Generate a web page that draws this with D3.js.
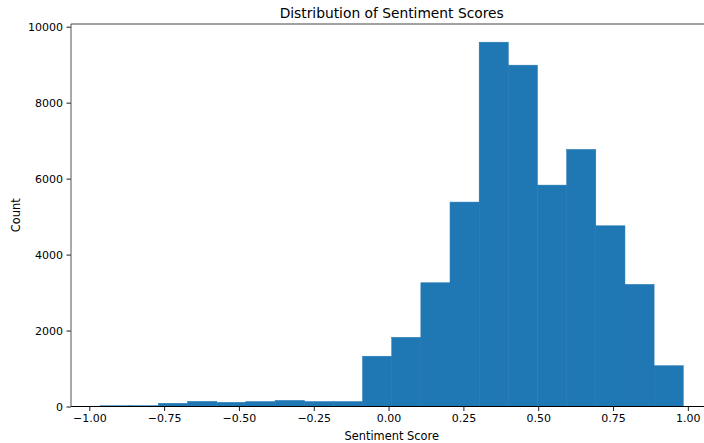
<!DOCTYPE html>
<html>
<head>
<meta charset="utf-8">
<script src="https://cdn.jsdelivr.net/npm/d3@7"></script>
<style>
  html, body { margin: 0; padding: 0; background: #fff; }
  svg { display: block; font-family: "DejaVu Sans", sans-serif; }
</style>
</head>
<body>
<svg id="chart" width="704" height="443"></svg>
<script>
// Histogram bin edges (sentiment score) and counts
const binEdges = [-0.9636, -0.8662, -0.7688, -0.6714, -0.5740, -0.4766, -0.3791, -0.2817,
  -0.1843, -0.0869, 0.0105, 0.1079, 0.2053, 0.3027, 0.4001, 0.4975, 0.5950, 0.6924,
  0.7898, 0.8872, 0.9846];
const counts = [20, 22, 85, 135, 110, 130, 160, 130, 130, 1324, 1821, 3258, 5382, 9592,
  8987, 5829, 6768, 4758, 3215, 1074];
const xTicks = [-1.0, -0.75, -0.5, -0.25, 0.0, 0.25, 0.5, 0.75, 1.0];
const yTicks = [0, 2000, 4000, 6000, 8000, 10000];
const titleText = "Distribution of Sentiment Scores";
const xLabel = "Sentiment Score";
const yLabel = "Count";

(function () {
const svg = d3.select("#chart");
const pL = 71, pR = 712.4, pT = 24, pB = 406.5;

const x = d3.scaleLinear().domain([-1.0611, 1.0820]).range([pL, pR]);
const y = d3.scaleLinear().domain([0, 10071]).range([pB, pT]);

const bins = counts.map((c, i) => ({ x0: binEdges[i], x1: binEdges[i + 1], c }));

svg.append("g").selectAll("rect").data(bins).join("rect")
  .attr("x", d => x(d.x0))
  .attr("width", d => x(d.x1) - x(d.x0))
  .attr("y", d => y(d.c))
  .attr("height", d => y(0) - y(d.c))
  .attr("fill", "#1f77b4")
  .attr("stroke", "#1f77b4")
  .attr("stroke-width", 0.5);

const fmt = v => (v < 0 ? "\u2212" : "") + Math.abs(v).toFixed(2);

const xAxis = svg.append("g").attr("transform", `translate(0,${pB})`)
  .call(d3.axisBottom(x).tickValues(xTicks).tickFormat(fmt).tickSize(4.5).tickPadding(3.5));
const yAxis = svg.append("g").attr("transform", `translate(${pL},0)`)
  .call(d3.axisLeft(y).tickValues(yTicks).tickFormat(d3.format("d")).tickSize(4.5).tickPadding(3.5));

[xAxis, yAxis].forEach(g => {
  g.selectAll("text").attr("font-size", 11).attr("fill", "#000").attr("font-family", "DejaVu Sans");
  g.selectAll(".tick line").attr("stroke", "#000").attr("stroke-width", 0.9);
  g.select(".domain").remove();
});

// spines
svg.append("line").attr("x1", pL).attr("x2", pR).attr("y1", pB).attr("y2", pB)
  .attr("stroke", "#000").attr("stroke-width", 1);
svg.append("line").attr("x1", pL).attr("x2", pL).attr("y1", pT).attr("y2", pB)
  .attr("stroke", "#555").attr("stroke-width", 1);
svg.append("line").attr("x1", pL).attr("x2", pR).attr("y1", pT).attr("y2", pT)
  .attr("stroke", "#444").attr("stroke-width", 1);

svg.append("text").attr("x", (pL + pR) / 2).attr("y", 18)
  .attr("text-anchor", "middle").attr("font-size", 13.8).attr("fill", "#000").text(titleText);
svg.append("text").attr("x", (pL + pR) / 2).attr("y", 440)
  .attr("text-anchor", "middle").attr("font-size", 11.4).attr("fill", "#000").text(xLabel);
svg.append("text").attr("transform", `translate(20,${(pT + pB) / 2}) rotate(-90)`)
  .attr("text-anchor", "middle").attr("font-size", 11.4).attr("fill", "#000").text(yLabel);
})();
</script>
</body>
</html>
